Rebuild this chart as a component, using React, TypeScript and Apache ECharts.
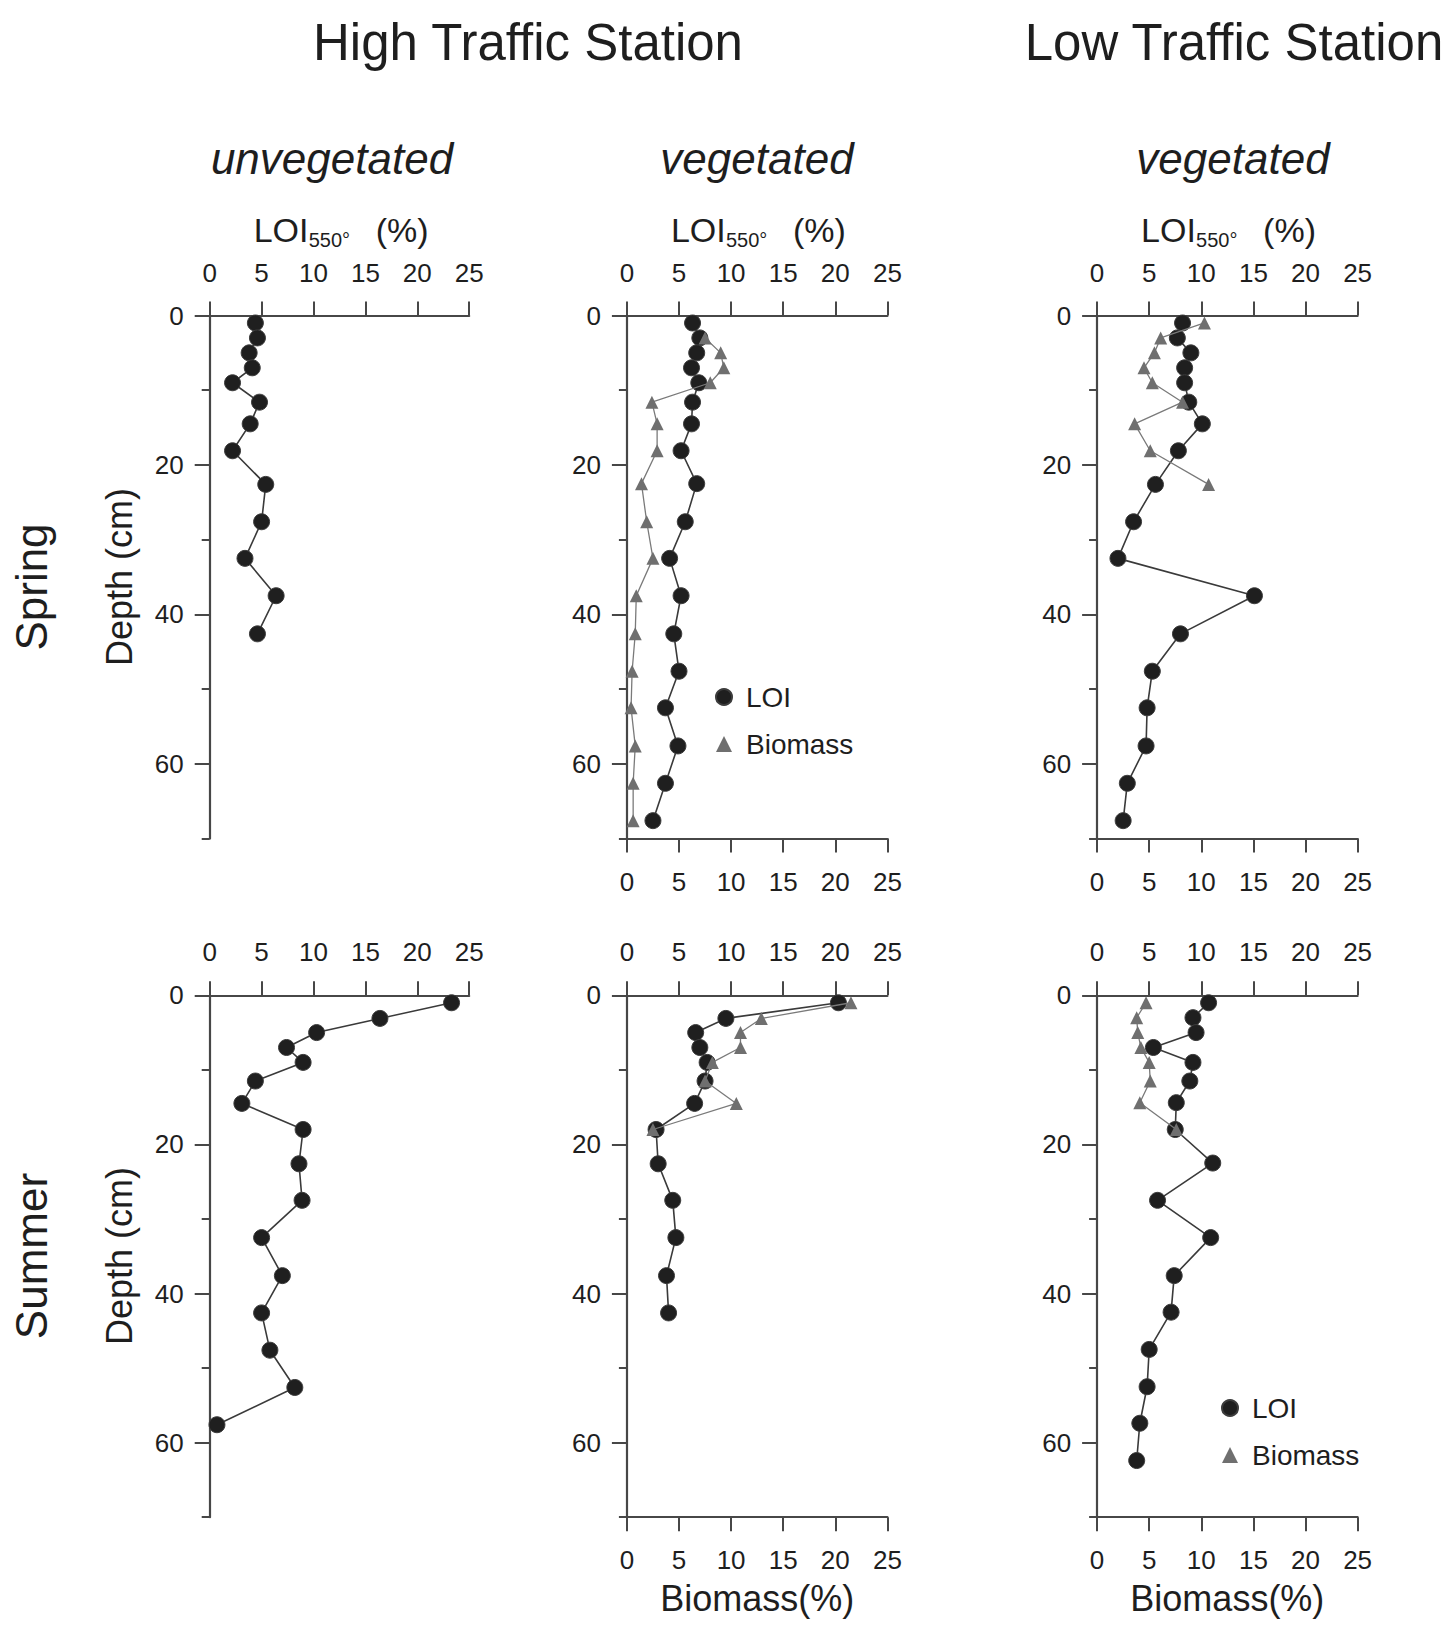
import React, { useEffect, useRef } from 'react';
import * as echarts from 'echarts';

const FONT = '"Liberation Sans", Arial, Helvetica, sans-serif';

// ---------- DATA ----------
// x axis ticks (LOI / Biomass %), depth ticks
const xTicks = [0, 5, 10, 15, 20, 25];
const depthMajorTicks = [0, 20, 40, 60];
const depthMinorTicks = [10, 30, 50, 70];

const stationTitles = ['High Traffic Station', 'Low Traffic Station'];
const columnTitles = ['unvegetated', 'vegetated', 'vegetated'];
const seasonTitles = ['Spring', 'Summer'];

// Spring, high traffic, unvegetated
const springHighUnvegDepth = [1, 3, 5, 7, 9, 11.6, 14.5, 18.1, 22.6, 27.6, 32.5, 37.5, 42.6];
const springHighUnvegLOI = [4.4, 4.6, 3.8, 4.1, 2.2, 4.8, 3.9, 2.2, 5.4, 5.0, 3.4, 6.4, 4.6];

// Spring, high traffic, vegetated
const springHighVegLOIDepth = [1, 3, 5, 7, 9, 11.6, 14.5, 18.1, 22.5, 27.6, 32.5, 37.5, 42.6, 47.6, 52.5, 57.6, 62.6, 67.6];
const springHighVegLOI = [6.3, 7.0, 6.7, 6.2, 6.9, 6.3, 6.2, 5.2, 6.7, 5.6, 4.1, 5.2, 4.5, 5.0, 3.7, 4.9, 3.7, 2.5];
const springHighVegBioDepth = [3, 5, 7, 9, 11.6, 14.5, 18.1, 22.5, 27.6, 32.5, 37.5, 42.6, 47.6, 52.5, 57.6, 62.6, 67.6];
const springHighVegBiomass = [7.5, 9.0, 9.3, 8.0, 2.4, 2.9, 2.9, 1.4, 1.9, 2.5, 0.9, 0.8, 0.5, 0.4, 0.8, 0.6, 0.6];

// Spring, low traffic, vegetated
const springLowVegLOIDepth = [1, 3, 5, 7, 9, 11.6, 14.5, 18.1, 22.6, 27.6, 32.5, 37.5, 42.6, 47.6, 52.5, 57.6, 62.6, 67.6];
const springLowVegLOI = [8.2, 7.7, 9.0, 8.4, 8.4, 8.8, 10.1, 7.8, 5.6, 3.5, 2.0, 15.1, 8.0, 5.3, 4.8, 4.7, 2.9, 2.5];
const springLowVegBioDepth = [1, 3, 5, 7, 9, 11.6, 14.5, 18.1, 22.6];
const springLowVegBiomass = [10.3, 6.1, 5.5, 4.5, 5.3, 8.2, 3.6, 5.1, 10.7];

// Summer, high traffic, unvegetated
const summerHighUnvegDepth = [1, 3.1, 5, 7, 9, 11.5, 14.5, 18, 22.6, 27.5, 32.5, 37.6, 42.6, 47.6, 52.6, 57.6];
const summerHighUnvegLOI = [23.3, 16.4, 10.3, 7.4, 9.0, 4.4, 3.1, 9.0, 8.6, 8.9, 5.0, 7.0, 5.0, 5.8, 8.2, 0.7];

// Summer, high traffic, vegetated
const summerHighVegLOIDepth = [1, 3.1, 5, 7, 9, 11.5, 14.5, 18, 22.6, 27.5, 32.5, 37.6, 42.6];
const summerHighVegLOI = [20.3, 9.5, 6.6, 7.0, 7.7, 7.5, 6.5, 2.8, 3.0, 4.4, 4.7, 3.8, 4.0];
const summerHighVegBioDepth = [1, 3.1, 5, 7, 9, 11.5, 14.5, 18];
const summerHighVegBiomass = [21.5, 12.9, 10.9, 10.9, 8.2, 7.5, 10.5, 2.5];

// Summer, low traffic, vegetated
const summerLowVegLOIDepth = [1, 3, 5, 7, 9, 11.5, 14.4, 18, 22.5, 27.5, 32.5, 37.6, 42.5, 47.5, 52.5, 57.4, 62.4];
const summerLowVegLOI = [10.7, 9.2, 9.5, 5.4, 9.2, 8.9, 7.6, 7.5, 11.1, 5.8, 10.9, 7.4, 7.1, 5.0, 4.8, 4.1, 3.8];
const summerLowVegBioDepth = [1, 3, 5, 7, 9, 11.5, 14.4, 18];
const summerLowVegBiomass = [4.7, 3.8, 3.9, 4.2, 5.0, 5.1, 4.1, 7.6];

// ---------- LAYOUT ----------
const colLeft = [209.7, 626.9, 1097.1];
const colWidth = [259.5, 260.5, 260.5];
const rowTop = [315.5, 995.3];
const rowHeight = [523.1, 521.9];

const panels = [
  { row: 0, col: 0, loiD: springHighUnvegDepth, loi: springHighUnvegLOI, bioD: null, bio: null, bottom: false, bottomName: false },
  { row: 0, col: 1, loiD: springHighVegLOIDepth, loi: springHighVegLOI, bioD: springHighVegBioDepth, bio: springHighVegBiomass, bottom: true, bottomName: false },
  { row: 0, col: 2, loiD: springLowVegLOIDepth, loi: springLowVegLOI, bioD: springLowVegBioDepth, bio: springLowVegBiomass, bottom: true, bottomName: false },
  { row: 1, col: 0, loiD: summerHighUnvegDepth, loi: summerHighUnvegLOI, bioD: null, bio: null, bottom: false, bottomName: false },
  { row: 1, col: 1, loiD: summerHighVegLOIDepth, loi: summerHighVegLOI, bioD: summerHighVegBioDepth, bio: summerHighVegBiomass, bottom: true, bottomName: true },
  { row: 1, col: 2, loiD: summerLowVegLOIDepth, loi: summerLowVegLOI, bioD: summerLowVegBioDepth, bio: summerLowVegBiomass, bottom: true, bottomName: true },
];

const AXIS_COLOR = '#474747';
const TEXT_COLOR = '#1e1e1e';

function pairs(depth: number[], vals: number[]) {
  return depth.map((d, i) => [vals[i], d]);
}

function buildOption() {
  const grid: any[] = [];
  const xAxis: any[] = [];
  const yAxis: any[] = [];
  const series: any[] = [];
  const graphic: any[] = [];

  const lineStyle = { color: AXIS_COLOR, width: 2.2 };
  const labelStyle = { fontSize: 26, color: TEXT_COLOR, fontFamily: FONT };

  panels.forEach((p, g) => {
    grid.push({
      left: colLeft[p.col],
      top: rowTop[p.row],
      width: colWidth[p.col],
      height: rowHeight[p.row],
      containLabel: false,
      outerBoundsMode: 'none',
    });
    const xTop = xAxis.length;
    xAxis.push({
      type: 'value', gridIndex: g, position: 'top', min: xTicks[0], max: xTicks[xTicks.length - 1], interval: 5,
      axisLine: { show: true, onZero: false, lineStyle },
      axisTick: { show: true, inside: false, length: 14, lineStyle: { color: AXIS_COLOR, width: 2 } },
      axisLabel: { ...labelStyle, margin: 30 },
      splitLine: { show: false },
    });
    if (p.bottom) {
      xAxis.push({
        type: 'value', gridIndex: g, position: 'bottom', min: xTicks[0], max: xTicks[xTicks.length - 1], interval: 5,
        axisLine: { show: true, onZero: false, lineStyle },
        axisTick: { show: true, inside: false, length: 14, lineStyle: { color: AXIS_COLOR, width: 2 } },
        axisLabel: { ...labelStyle, margin: 30 },
        splitLine: { show: false },
      });
    }
    const yMinor = yAxis.length;
    yAxis.push({
      type: 'value', gridIndex: g, position: 'left', inverse: true, min: 0, max: 70, interval: 10,
      axisLine: { show: true, onZero: false, lineStyle },
      axisTick: { show: true, length: 8, customValues: depthMinorTicks, lineStyle: { color: AXIS_COLOR, width: 2 } },
      axisLabel: { show: false },
      splitLine: { show: false },
    });
    yAxis.push({
      type: 'value', gridIndex: g, position: 'left', inverse: true, min: 0, max: 70, interval: 10,
      axisLine: { show: false, onZero: false },
      axisTick: { show: true, length: 15, customValues: depthMajorTicks, lineStyle: { color: AXIS_COLOR, width: 2 } },
      axisLabel: { ...labelStyle, margin: 26, customValues: depthMajorTicks },
      splitLine: { show: false },
    });

    series.push({
      name: 'LOI', type: 'line', xAxisIndex: xTop, yAxisIndex: yMinor,
      data: pairs(p.loiD, p.loi),
      symbol: 'circle', symbolSize: 16,
      itemStyle: { color: '#1f1f1f', borderColor: '#3c3c3c', borderWidth: 1 },
      lineStyle: { color: '#3a3a3a', width: 1.6 },
      z: 3,
    });
    if (p.bio && p.bioD) {
      series.push({
        name: 'Biomass', type: 'line', xAxisIndex: xTop, yAxisIndex: yMinor,
        data: pairs(p.bioD, p.bio),
        symbol: 'triangle', symbolSize: 13,
        itemStyle: { color: '#6f6f6f' },
        lineStyle: { color: '#7a7a7a', width: 1.3 },
        z: 4,
      });
    }

    // Bottom axis title
    if (p.bottomName) {
      graphic.push({
        type: 'text', x: colLeft[p.col] + colWidth[p.col] / 2, y: 1598,
        style: { text: 'Biomass(%)', fontSize: 36, fontFamily: FONT, fill: TEXT_COLOR, align: 'center', verticalAlign: 'middle' },
      });
    }
  });

  // Column headers: LOI550° (%)
  colLeft.forEach((lx) => {
    const sx = lx + 44;
    graphic.push({ type: 'text', x: sx, y: 230, style: { text: 'LOI', fontSize: 34, fontFamily: FONT, fill: TEXT_COLOR, align: 'left', verticalAlign: 'middle' } });
    graphic.push({ type: 'text', x: sx + 55, y: 240, style: { text: '550°', fontSize: 20, fontFamily: FONT, fill: TEXT_COLOR, align: 'left', verticalAlign: 'middle' } });
    graphic.push({ type: 'text', x: sx + 122, y: 230, style: { text: '(%)', fontSize: 34, fontFamily: FONT, fill: TEXT_COLOR, align: 'left', verticalAlign: 'middle' } });
  });

  // Sub-titles
  const subX = [332, 757, 1233];
  columnTitles.forEach((t, i) => {
    graphic.push({ type: 'text', x: subX[i], y: 158, style: { text: t, fontSize: 44, fontStyle: 'italic', fontFamily: FONT, fill: TEXT_COLOR, align: 'center', verticalAlign: 'middle' } });
  });

  // Station titles
  const stX = [528, 1234];
  stationTitles.forEach((t, i) => {
    graphic.push({ type: 'text', x: stX[i], y: 42, style: { text: t, fontSize: 51, fontFamily: FONT, fill: TEXT_COLOR, align: 'center', verticalAlign: 'middle' } });
  });

  // Season labels and depth axis titles
  const seasonY = [587, 1256];
  const depthY = [577, 1256];
  seasonTitles.forEach((t, i) => {
    graphic.push({ type: 'text', x: 31, y: seasonY[i], rotation: Math.PI / 2, style: { text: t, fontSize: 44, fontFamily: FONT, fill: TEXT_COLOR, align: 'center', verticalAlign: 'middle' } });
    graphic.push({ type: 'text', x: 119, y: depthY[i], rotation: Math.PI / 2, style: { text: 'Depth (cm)', fontSize: 36, fontFamily: FONT, fill: TEXT_COLOR, align: 'center', verticalAlign: 'middle' } });
  });

  const legendCommon = {
    orient: 'vertical', padding: 0, itemWidth: 16, itemHeight: 16, itemGap: 19, selectedMode: false,
    textStyle: { fontSize: 28, color: TEXT_COLOR, fontFamily: FONT, padding: [0, 0, 0, 9] },
    data: [{ name: 'LOI', icon: 'circle' }, { name: 'Biomass', icon: 'triangle' }],
  };

  return {
    animation: false,
    backgroundColor: '#ffffff',
    grid, xAxis, yAxis, series, graphic,
    legend: [
      { ...legendCommon, left: 715, top: 683 },
      { ...legendCommon, left: 1221, top: 1394 },
    ],
  };
}

export default function App() {
  const ref = useRef<HTMLDivElement>(null);
  useEffect(() => {
    if (!ref.current) return;
    const chart = echarts.init(ref.current, null, { renderer: 'svg' });
    chart.setOption(buildOption() as any);
    return () => chart.dispose();
  }, []);
  return <div ref={ref} style={{ position: 'absolute', left: 0, top: 0, width: 1453, height: 1627, background: '#fff' }} />;
}
